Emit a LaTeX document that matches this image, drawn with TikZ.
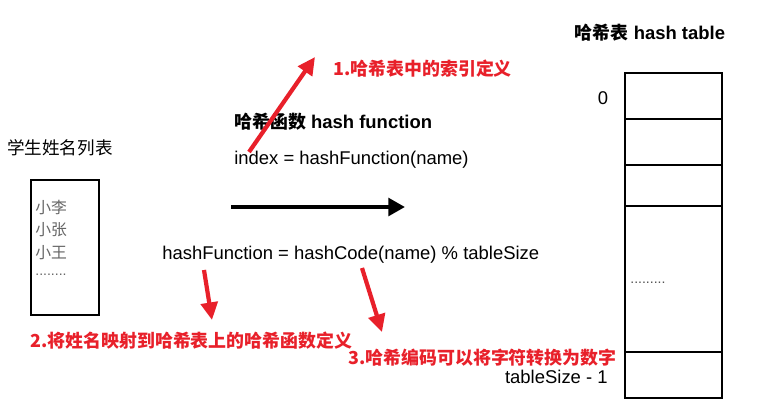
\documentclass[tikz,border=0pt]{standalone}
\usepackage{fontspec}
\setmainfont{Liberation Sans}
\newfontfamily\cjk{Noto Sans CJK SC}
\usetikzlibrary{arrows.meta, positioning}
\definecolor{rojo}{HTML}{E8202A}
\definecolor{gris}{HTML}{666666}
\tikzset{
  every picture/.style={>=Stealth},
  txt/.style={inner sep=0pt, font=\fontsize{10.5}{12}\selectfont},
  titulo/.style={txt, font=\fontsize{10.5}{12}\selectfont\bfseries},
  nota/.style={txt, text=rojo, font=\fontsize{10.2}{12}\selectfont\cjk\bfseries},
  nombre/.style={txt, text=gris, anchor=west, font=\fontsize{9}{11}\selectfont\cjk},
  celda/.style={draw, line width=0.9pt},
  flecha/.style={-{Triangle[length=9.5pt, width=10pt]}, line width=2.3pt},
  flechar/.style={-{Triangle[length=10pt, width=9.5pt]}, line width=2.4pt, rojo},
}
\begin{document}
\begin{tikzpicture}[x=0.02cm, y=-0.02cm]
  \useasboundingbox (0,0) rectangle (762,414);
  % student list
  \node[txt, font=\fontsize{10}{12}\selectfont\cjk] (lista) at (60,148) {学生姓名列表};
  \draw[celda] (31,180) rectangle (99,315);
  \node[nombre] (n1) at (35,207) {小李};
  \node[nombre] (n2) at (35,230) {小张};
  \node[nombre] (n3) at (35,253) {小王};
  \node[nombre, font=\fontsize{8}{10}\selectfont] (n4) at (35,275) {........};
  % hash function
  \node[titulo, anchor=west] (func) at (234,122) {{\cjk\fontsize{10.2}{12}\selectfont 哈希函数} hash function};
  \node[txt, anchor=west] (index) at (234,160) {index = hashFunction(name)};
  \node[txt, anchor=west] (formula) at (162,255) {hashFunction = hashCode(name) \% tableSize};
  \coordinate (ini) at (231,207);
  \coordinate (fin) at (405,207);
  \draw[flecha] (ini) -- (fin);
  % hash table
  \node[titulo] (tabla) at (650,33) {{\cjk\fontsize{10.2}{12}\selectfont 哈希表} hash table};
  \draw[celda] (625,73) rectangle (722,398);
  \foreach \y in {119,165,206,352}
    \draw[celda] (625,\y) -- (722,\y);
  \node[txt] (cero) at (603,98) {0};
  \node[txt, anchor=west, text=gris!80!black, font=\fontsize{8}{9}\selectfont] (puntos) at (630,283) {.........};
  \node[txt, anchor=east] (ultimo) at (608,377) {tableSize - 1};
  % notes
  \node[nota, anchor=west] (nota1) at (333,69) {1.哈希表中的索引定义};
  \node[nota, anchor=west] (nota2) at (30,341) {2.将姓名映射到哈希表上的哈希函数定义};
  \node[nota, anchor=west] (nota3) at (348,358) {3.哈希编码可以将字符转换为数字};
  \coordinate (a1) at (249,152);
  \coordinate (b1) at (315,57);
  \coordinate (a2) at (204,270);
  \coordinate (b2) at (212,320);
  \coordinate (a3) at (362,268);
  \coordinate (b3) at (382,332);
  \draw[flechar] (a1) -- (b1);
  \draw[flechar] (a2) -- (b2);
  \draw[flechar] (a3) -- (b3);
\end{tikzpicture}
\end{document}
